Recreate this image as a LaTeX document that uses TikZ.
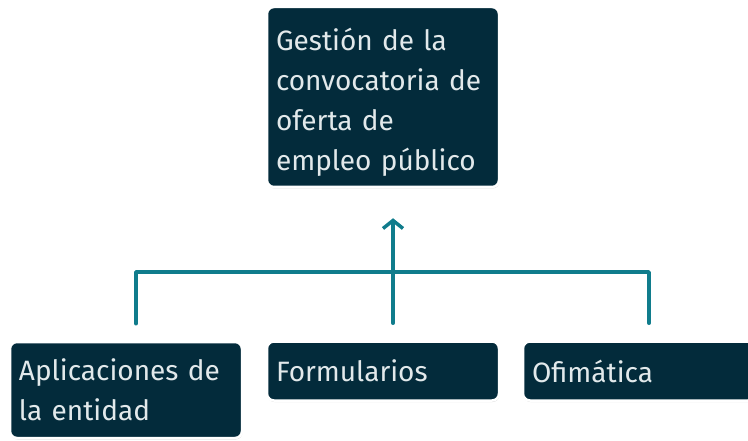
\documentclass[tikz,border=0pt]{standalone}
\usepackage{fontspec}
\setmainfont{Fira Sans}
\usetikzlibrary{arrows.meta,shadows}
\definecolor{fondo}{RGB}{3,43,59}
\definecolor{letra}{RGB}{226,233,235}
\definecolor{azulverde}{RGB}{16,124,140}

\begin{document}
\begin{tikzpicture}[x=1pt,y=-1pt]
        \useasboundingbox (0,0) rectangle (748,441);
        \tikzstyle{caja}=[rectangle,rounded corners=7pt,fill=fondo,draw=white,line width=2.5pt,
            drop shadow={shadow xshift=0.5pt,shadow yshift=-1.5pt,opacity=0.3},
            text=letra,font=\fontsize{28}{40}\selectfont,align=left,
            text width=214pt,inner xsep=9pt,inner ysep=0pt]
        \tikzstyle{linea}=[draw=azulverde,line width=3.5pt,line cap=round,line join=round]
            \node[caja,minimum height=180pt] (gest) at (383,97) {\rule{0pt}{32pt}Gestión de la\\convocatoria de\\oferta de\\empleo público};
            \node[caja,minimum height=96pt] (apl) at (126,390) {Aplicaciones de\\la entidad};
            \node[caja,minimum height=59pt] (form) at (383,371) {Formularios};
            \node[caja,minimum height=59pt] (ofi) at (639,371) {Ofimática};
            \coordinate (bus) at (393,272);

            \draw[linea] ([xshift=10pt,yshift=17pt]apl.north) |- (bus) -| ([xshift=10pt,yshift=17pt]ofi.north);
            \draw[linea,-{Straight Barb[length=8pt,width=20pt]}] ([xshift=10pt,yshift=17pt]form.north)
            -- ([xshift=10pt,yshift=-30pt]gest.south);
        \end{tikzpicture}
\end{document}
